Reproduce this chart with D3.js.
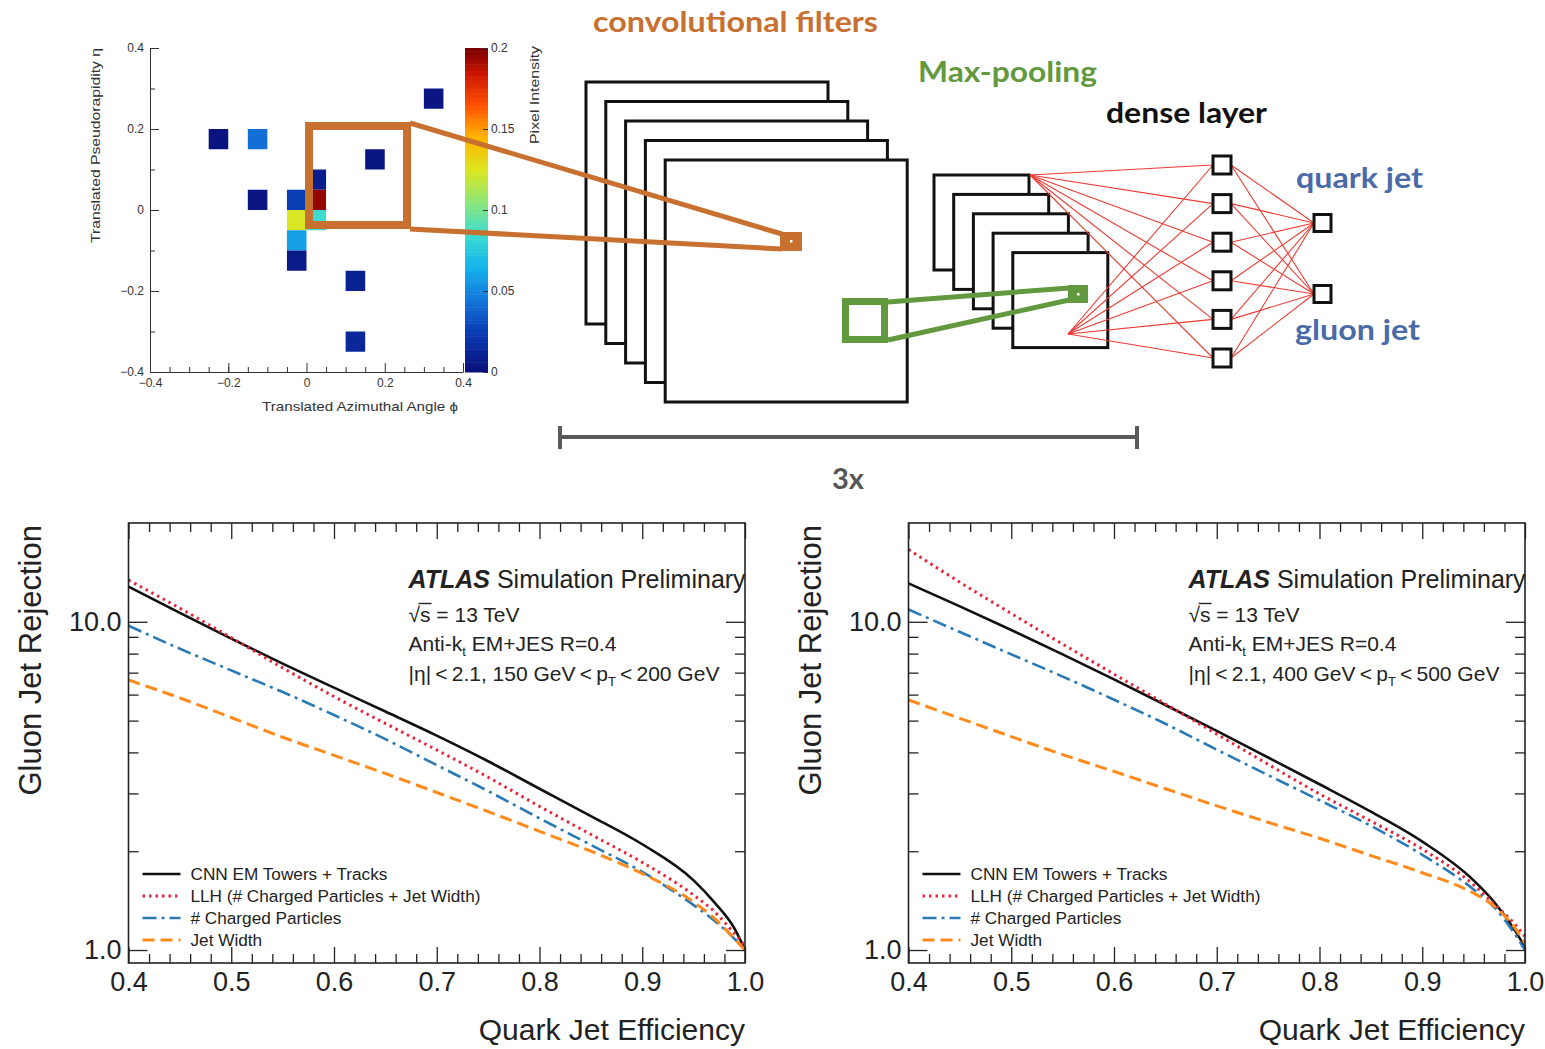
<!DOCTYPE html>
<html>
<head>
<meta charset="utf-8">
<script src="https://cdn.jsdelivr.net/npm/d3@7"></script>
<style>
  body { margin: 0; background: #fff; }
  svg { display: block; }
</style>
</head>
<body>
<script>
// ---- data ----
// jet image cells (phi, eta centres, pixel intensity)
var cellPhi = [0.325, -0.225, -0.125, 0.175, 0.025, 0.025, 0.025, -0.125, -0.025, -0.025, -0.025, -0.025, 0.125, 0.125];
var cellEta = [0.275, 0.175, 0.175, 0.125, 0.075, 0.025, -0.025, 0.025, 0.025, -0.025, -0.075, -0.125, -0.175, -0.325];
var cellVal = [0.004, 0.003, 0.042, 0.004, 0.008, 0.195, 0.085, 0.004, 0.025, 0.124, 0.058, 0.006, 0.010, 0.014];
var heatTicks = [-0.4, -0.2, 0, 0.2, 0.4];
var barTicks = [0, 0.05, 0.1, 0.15, 0.2];

// ROC curves: quark efficiency grid and gluon rejection per tagger
var effGrid = [0.40, 0.45, 0.50, 0.55, 0.60, 0.65, 0.70, 0.75, 0.80, 0.85, 0.90, 0.95, 0.97, 0.99, 1.00];
// 150 GeV < pT < 200 GeV
var cnnLow   = [12.8, 10.64, 8.89, 7.46, 6.30, 5.33, 4.50, 3.76, 3.10, 2.56, 2.10, 1.63, 1.40, 1.16, 1.0];
var llhLow   = [13.4, 11.0, 8.95, 7.24, 5.92, 4.90, 4.07, 3.36, 2.74, 2.25, 1.85, 1.47, 1.31, 1.12, 1.03];
var nchLow   = [9.73, 8.28, 7.11, 6.11, 5.2, 4.39, 3.66, 3.05, 2.52, 2.09, 1.73, 1.37, 1.23, 1.08, 1.0];
var widthLow = [6.65, 5.86, 5.11, 4.45, 3.92, 3.45, 3.02, 2.64, 2.30, 2.0, 1.71, 1.40, 1.25, 1.08, 1.0];
// 400 GeV < pT < 500 GeV
var cnnHigh   = [13.1, 11.14, 9.44, 7.96, 6.68, 5.58, 4.65, 3.86, 3.20, 2.64, 2.14, 1.63, 1.40, 1.15, 1.02];
var llhHigh   = [16.6, 13.2, 10.6, 8.55, 6.93, 5.62, 4.55, 3.68, 2.99, 2.47, 2.03, 1.58, 1.38, 1.2, 1.1];
var nchHigh   = [10.9, 9.31, 7.96, 6.81, 5.79, 4.89, 4.08, 3.41, 2.86, 2.39, 1.95, 1.53, 1.35, 1.12, 1.0];
var widthHigh = [5.78, 5.08, 4.47, 3.94, 3.5, 3.1, 2.75, 2.45, 2.19, 1.94, 1.72, 1.49, 1.36, 1.17, 1.05];

var legendNames = ["CNN EM Towers + Tracks", "LLH (# Charged Particles + Jet Width)", "# Charged Particles", "Jet Width"];
var effTicks = [0.4, 0.5, 0.6, 0.7, 0.8, 0.9, 1.0];
var rejTicks = [1, 10];
var rejMinor = [2, 3, 4, 5, 6, 7, 8, 9];

var outputNames = ["quark jet", "gluon jet"];
var nFilters = 5, nDense = 6;

// ---- setup ----
var W = 1545, H = 1049;
var rootFont = "'Liberation Sans', Arial, Helvetica, sans-serif";
var slideFont = "Lato, 'Open Sans', sans-serif";

var svg = d3.select("body").append("svg")
    .attr("width", W)
    .attr("height", H)
    .style("background", "#fff");

// ================= jet image =================
var xH = d3.scaleLinear().domain([-0.4, 0.4]).range([150, 463]);
var yH = d3.scaleLinear().domain([-0.4, 0.4]).range([372, 48]);
var heatColor = d3.scaleLinear()
    .domain([0, 0.025, 0.045, 0.065, 0.085, 0.105, 0.125, 0.145, 0.165, 0.185, 0.2])
    .range(["#0a0f7a", "#0a3cb4", "#1478dc", "#14b4ec", "#3cdcd0", "#8ce678", "#dce61e", "#ffb400", "#ff5000", "#c81400", "#780000"]);

var heat = svg.append("g").attr("class", "heat");
var cellHalf = 0.025;
heat.selectAll(".cell")
    .data(d3.range(cellVal.length))
    .enter()
    .append("rect")
    .attr("class", "cell")
    .attr("x", function(i){ return xH(cellPhi[i] - cellHalf); })
    .attr("y", function(i){ return yH(cellEta[i] + cellHalf); })
    .attr("width", function(i){ return xH(cellPhi[i] + cellHalf) - xH(cellPhi[i] - cellHalf); })
    .attr("height", function(i){ return yH(cellEta[i] - cellHalf) - yH(cellEta[i] + cellHalf); })
    .style("fill", function(i){ return heatColor(cellVal[i]); });

// colour bar
var yBar = d3.scaleLinear().domain([0, 0.2]).range([372, 48]);
heat.selectAll(".barstep")
    .data(d3.range(0, 0.2, 0.002))
    .enter()
    .append("rect")
    .attr("class", "barstep")
    .attr("x", 465)
    .attr("width", 23)
    .attr("y", function(d){ return yBar(d + 0.002); })
    .attr("height", function(d){ return yBar(d) - yBar(d + 0.002) + 0.5; })
    .style("fill", function(d){ return heatColor(d + 0.001); });

var barAxis = heat.append("g")
    .attr("transform", "translate(488,0)")
    .call(d3.axisRight(yBar).tickValues(barTicks).tickSizeInner(-5).tickSizeOuter(0).tickPadding(3)
        .tickFormat(function(d){ return String(d); }));
barAxis.select(".domain").remove();
barAxis.attr("font-family", rootFont).attr("font-size", 12).attr("color", "#333");

// heat axes
var heatLeft = heat.append("g")
    .attr("transform", "translate(150,0)")
    .call(d3.axisLeft(yH).tickValues(heatTicks).tickSizeInner(-9).tickSizeOuter(0).tickPadding(6)
        .tickFormat(function(d){ return d === 0 ? "0" : d3.format(".1f")(d); }));
heatLeft.attr("font-family", rootFont).attr("font-size", 12).attr("color", "#333");
heat.append("g")
    .attr("transform", "translate(150,0)")
    .attr("color", "#333")
    .call(d3.axisLeft(yH).tickValues([-0.3, -0.1, 0.1, 0.3]).tickSizeInner(-5).tickSizeOuter(0).tickFormat(""))
    .select(".domain").remove();

var heatBottom = heat.append("g")
    .attr("transform", "translate(0,372)")
    .call(d3.axisBottom(xH).tickValues(heatTicks).tickSizeInner(-9).tickSizeOuter(0).tickPadding(6)
        .tickFormat(function(d){ return d === 0 ? "0" : d3.format(".1f")(d); }));
heatBottom.attr("font-family", rootFont).attr("font-size", 12).attr("color", "#333");
heat.append("g")
    .attr("transform", "translate(0,372)")
    .attr("color", "#333")
    .call(d3.axisBottom(xH).tickValues(d3.range(-0.35, 0.4, 0.05).filter(function(d){ return Math.abs((d * 10) % 2) > 0.01; }))
        .tickSizeInner(-5).tickSizeOuter(0).tickFormat(""))
    .select(".domain").remove();

heat.append("text")
    .attr("x", 458).attr("y", 411)
    .attr("text-anchor", "end")
    .attr("font-family", rootFont).attr("font-size", 13).attr("fill", "#333")
    .attr("textLength", 196).attr("lengthAdjust", "spacingAndGlyphs")
    .text("Translated Azimuthal Angle \u03d5");
heat.append("text")
    .attr("transform", "translate(100,48) rotate(-90)")
    .attr("text-anchor", "end")
    .attr("font-family", rootFont).attr("font-size", 12.5).attr("fill", "#333")
    .attr("textLength", 195).attr("lengthAdjust", "spacingAndGlyphs")
    .text("Translated Pseudorapidity \u03b7");
heat.append("text")
    .attr("transform", "translate(539,46) rotate(-90)")
    .attr("text-anchor", "end")
    .attr("font-family", rootFont).attr("font-size", 12.5).attr("fill", "#333")
    .attr("textLength", 98).attr("lengthAdjust", "spacingAndGlyphs")
    .text("Pixel Intensity");

// ================= network diagram =================
var orange = "#c8702f", green = "#62993f", netBlue = "#4a6aa8", netRed = "#f03a32";
var diag = svg.append("g").attr("class", "diagram");

// convolution stack
diag.selectAll(".conv")
    .data(d3.range(nFilters))
    .enter()
    .append("rect")
    .attr("class", "conv")
    .attr("x", function(i){ return 586 + i * 19.8; })
    .attr("y", function(i){ return 82 + i * 19.5; })
    .attr("width", 242)
    .attr("height", 242)
    .style("fill", "#fff")
    .style("stroke", "#111")
    .style("stroke-width", 3);

// orange receptive field
diag.append("rect")
    .attr("x", 309).attr("y", 126).attr("width", 98).attr("height", 99)
    .style("fill", "none").style("stroke", orange).style("stroke-width", 8);
diag.append("path")
    .attr("d", "M410,123 L782,234 M410,229 L782,249")
    .style("fill", "none").style("stroke", orange).style("stroke-width", 5);
diag.append("rect")
    .attr("x", 780).attr("y", 232).attr("width", 22).attr("height", 19)
    .style("fill", orange);
diag.append("rect")
    .attr("x", 790).attr("y", 240).attr("width", 2.5).attr("height", 2.5)
    .style("fill", "#fff");

// pooling stack
diag.selectAll(".pool")
    .data(d3.range(nFilters))
    .enter()
    .append("rect")
    .attr("class", "pool")
    .attr("x", function(i){ return 934 + i * 19.7; })
    .attr("y", function(i){ return 175 + i * 19.4; })
    .attr("width", 95)
    .attr("height", 95)
    .style("fill", "#fff")
    .style("stroke", "#111")
    .style("stroke-width", 3);

// green pooling window
diag.append("rect")
    .attr("x", 845.5).attr("y", 301.5).attr("width", 39).attr("height", 38)
    .style("fill", "none").style("stroke", green).style("stroke-width", 7);
diag.append("path")
    .attr("d", "M888,302 L1069,288 M888,340 L1069,300")
    .style("fill", "none").style("stroke", green).style("stroke-width", 5);
diag.append("rect")
    .attr("x", 1068).attr("y", 285).attr("width", 20).attr("height", 18)
    .style("fill", green);
diag.append("rect")
    .attr("x", 1077).attr("y", 293).attr("width", 2.5).attr("height", 2.5)
    .style("fill", "#fff");

// dense layer + outputs
var yDense = d3.scalePoint().domain(d3.range(nDense)).range([165, 358]);
var yOut = d3.scalePoint().domain(outputNames).range([223, 294]);
var fanSources = [[1030, 175], [1068, 334]];
var links = [];
fanSources.forEach(function(s){
    d3.range(nDense).forEach(function(j){
        links.push([s[0], s[1], 1213, yDense(j)]);
    });
});
d3.range(nDense).forEach(function(j){
    outputNames.forEach(function(o){
        links.push([1231, yDense(j), 1314, yOut(o)]);
    });
});
diag.selectAll(".link")
    .data(links)
    .enter()
    .append("line")
    .attr("class", "link")
    .attr("x1", function(d){ return d[0]; })
    .attr("y1", function(d){ return d[1]; })
    .attr("x2", function(d){ return d[2]; })
    .attr("y2", function(d){ return d[3]; })
    .style("stroke", netRed)
    .style("stroke-width", 1.1);

diag.selectAll(".dense")
    .data(d3.range(nDense))
    .enter()
    .append("rect")
    .attr("class", "dense")
    .attr("x", 1213)
    .attr("y", function(j){ return yDense(j) - 9; })
    .attr("width", 18)
    .attr("height", 18)
    .style("fill", "#fff")
    .style("stroke", "#111")
    .style("stroke-width", 3);

diag.selectAll(".out")
    .data(outputNames)
    .enter()
    .append("rect")
    .attr("class", "out")
    .attr("x", 1314)
    .attr("y", function(o){ return yOut(o) - 8.5; })
    .attr("width", 17)
    .attr("height", 17)
    .style("fill", "#fff")
    .style("stroke", "#111")
    .style("stroke-width", 3);

// scale bar "3x"
diag.append("path")
    .attr("d", "M559,437 L1138,437 M560,426 L560,449 M1137,426 L1137,449")
    .style("fill", "none").style("stroke", "#5a5a5a").style("stroke-width", 4);

function slideText(txt, x, y, len, color, anchor){
    diag.append("text")
        .attr("x", x).attr("y", y)
        .attr("text-anchor", anchor || "start")
        .attr("font-family", slideFont)
        .attr("font-weight", "bold")
        .attr("font-size", 28)
        .attr("fill", color)
        .attr("textLength", len)
        .attr("lengthAdjust", "spacingAndGlyphs")
        .text(txt);
}
slideText("convolutional filters", 593, 32, 285, orange);
slideText("Max-pooling", 918, 82, 179, green);
slideText("dense layer", 1106, 123, 161, "#111");
slideText(outputNames[0], 1296, 188, 127, netBlue);
slideText(outputNames[1], 1295, 340, 125, netBlue);
slideText("3x", 832, 489, 32, "#555");

// ================= ROC panels =================
var styles = [
    { color: "#111111", width: 2.6, dash: null },
    { color: "#e8253a", width: 3, dash: "2.5,4" },
    { color: "#2a7ab6", width: 2.6, dash: "14,5,3,5" },
    { color: "#ff8a1c", width: 3, dash: "12,6" }
];

function drawPanel(left, seriesList, ptLow, ptHigh){
    var x = d3.scaleLinear().domain([0.4, 1.0]).range([left, left + 616.5]);
    var y = d3.scaleLog().domain([0.913, 20]).range([963, 523]);
    var right = x(1.0), top = y(20), bottom = y(0.913);
    var g = svg.append("g").attr("class", "panel");

    var line = d3.line()
        .x(function(d){ return x(d[0]); })
        .y(function(d){ return y(d[1]); })
        .curve(d3.curveMonotoneX);

    seriesList.forEach(function(vals, k){
        g.append("path")
            .datum(effGrid.map(function(e, i){ return [e, vals[i]]; }))
            .attr("d", line)
            .style("fill", "none")
            .style("stroke", styles[k].color)
            .style("stroke-width", styles[k].width)
            .style("stroke-dasharray", styles[k].dash);
    });

    // ticks on all sides, pointing inward
    var xMinor = d3.range(0.42, 1.0, 0.02).filter(function(d){ return Math.abs(Math.round(d * 10) - d * 10) > 0.01; });
    var axB = g.append("g").attr("transform", "translate(0," + bottom + ")")
        .call(d3.axisBottom(x).tickValues(effTicks).tickSizeInner(-16).tickSizeOuter(0).tickPadding(9)
            .tickFormat(d3.format(".1f")));
    axB.attr("font-family", rootFont).attr("font-size", 27).attr("color", "#222");
    g.append("g").attr("transform", "translate(0," + bottom + ")").attr("color", "#222")
        .call(d3.axisBottom(x).tickValues(xMinor).tickSizeInner(-9).tickSizeOuter(0).tickFormat(""));
    g.append("g").attr("transform", "translate(0," + top + ")").attr("color", "#222")
        .call(d3.axisTop(x).tickValues(effTicks).tickSizeInner(-16).tickSizeOuter(0).tickFormat(""));
    g.append("g").attr("transform", "translate(0," + top + ")").attr("color", "#222")
        .call(d3.axisTop(x).tickValues(xMinor).tickSizeInner(-9).tickSizeOuter(0).tickFormat(""));

    var axL = g.append("g").attr("transform", "translate(" + left + ",0)")
        .call(d3.axisLeft(y).tickValues(rejTicks).tickSizeInner(-19).tickSizeOuter(0).tickPadding(7)
            .tickFormat(d3.format(".1f")));
    axL.attr("font-family", rootFont).attr("font-size", 27).attr("color", "#222");
    g.append("g").attr("transform", "translate(" + left + ",0)").attr("color", "#222")
        .call(d3.axisLeft(y).tickValues(rejMinor).tickSizeInner(-10).tickSizeOuter(0).tickFormat(""));
    g.append("g").attr("transform", "translate(" + right + ",0)").attr("color", "#222")
        .call(d3.axisRight(y).tickValues(rejTicks).tickSizeInner(-19).tickSizeOuter(0).tickFormat(""));
    g.append("g").attr("transform", "translate(" + right + ",0)").attr("color", "#222")
        .call(d3.axisRight(y).tickValues(rejMinor).tickSizeInner(-10).tickSizeOuter(0).tickFormat(""));
    g.selectAll(".domain").remove();
    g.selectAll(".tick line").style("stroke-width", 1.3);

    g.append("rect")
        .attr("x", left).attr("y", top)
        .attr("width", right - left).attr("height", bottom - top)
        .style("fill", "none").style("stroke", "#222").style("stroke-width", 1.6);

    // axis titles
    g.append("text")
        .attr("transform", "translate(" + (left - 88) + "," + (top + 2) + ") rotate(-90)")
        .attr("text-anchor", "end")
        .attr("font-family", rootFont).attr("font-size", 31).attr("fill", "#222")
        .text("Gluon Jet Rejection");
    g.append("text")
        .attr("x", right).attr("y", 1040)
        .attr("text-anchor", "end")
        .attr("font-family", rootFont).attr("font-size", 30).attr("fill", "#222")
        .text("Quark Jet Efficiency");

    // ATLAS label block
    var tx = left + 280;
    var t1 = g.append("text").attr("x", tx).attr("y", 588)
        .attr("font-family", rootFont).attr("font-size", 25).attr("fill", "#222");
    t1.append("tspan").attr("font-weight", "bold").attr("font-style", "italic").text("ATLAS");
    t1.append("tspan").text(" Simulation Preliminary");

    var t2 = g.append("text").attr("x", tx).attr("y", 622)
        .attr("font-family", rootFont).attr("font-size", 21).attr("fill", "#222")
        .text("\u221as = 13 TeV");
    var n2 = t2.node();
    var sx1 = n2.getEndPositionOfChar(1).x;
    var rx1 = n2.getEndPositionOfChar(0).x;
    g.append("line")
        .attr("x1", rx1 - 1.5).attr("x2", sx1 + 1)
        .attr("y1", 603.5).attr("y2", 603.5)
        .style("stroke", "#222").style("stroke-width", 1.4);

    var t3 = g.append("text").attr("x", tx).attr("y", 651)
        .attr("font-family", rootFont).attr("font-size", 21).attr("fill", "#222");
    t3.append("tspan").text("Anti-k");
    t3.append("tspan").attr("font-size", 13).attr("dy", 5).text("t");
    t3.append("tspan").attr("dy", -5).text(" EM+JES R=0.4");

    var t4 = g.append("text").attr("x", tx).attr("y", 681)
        .attr("font-family", rootFont).attr("font-size", 21).attr("fill", "#222");
    t4.append("tspan").text("|\u03b7|\u2009<\u20092.1, " + ptLow + " GeV\u2009<\u2009p");
    t4.append("tspan").attr("font-size", 13).attr("dy", 5).text("T");
    t4.append("tspan").attr("dy", -5).text("\u2009<\u2009" + ptHigh + " GeV");

    // legend
    var leg = g.selectAll(".leg")
        .data(legendNames)
        .enter()
        .append("g")
        .attr("class", "leg")
        .attr("transform", function(d, i){ return "translate(" + (left + 14) + "," + (874 + i * 22) + ")"; });
    leg.append("line")
        .attr("x1", 0).attr("x2", 38)
        .style("stroke", function(d, i){ return styles[i].color; })
        .style("stroke-width", function(d, i){ return styles[i].width; })
        .style("stroke-dasharray", function(d, i){ return styles[i].dash; });
    leg.append("text")
        .attr("x", 48).attr("y", 6)
        .attr("font-family", rootFont).attr("font-size", 17.2).attr("fill", "#222")
        .text(function(d){ return d; });
}

drawPanel(128.5, [cnnLow, llhLow, nchLow, widthLow], 150, 200);
drawPanel(908.5, [cnnHigh, llhHigh, nchHigh, widthHigh], 400, 500);
</script>
</body>
</html>
